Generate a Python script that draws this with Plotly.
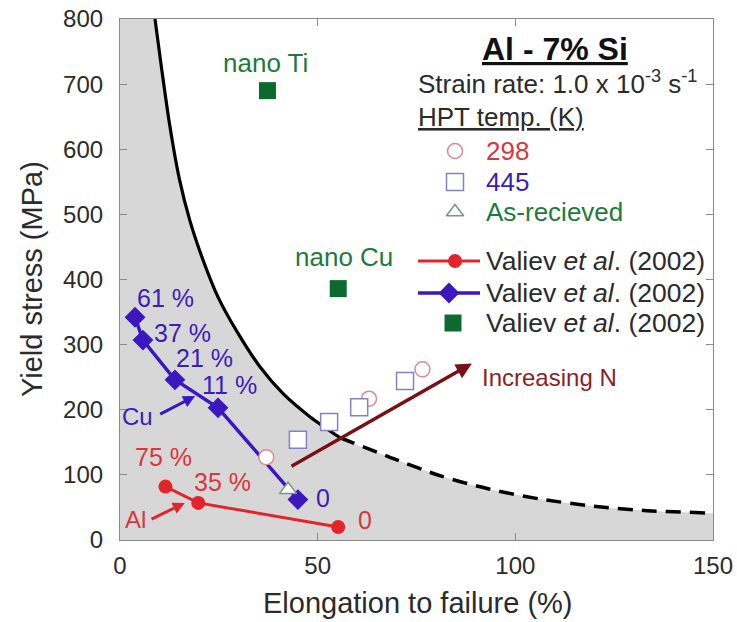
import plotly.graph_objects as go

# ---------------- data ----------------
curve_solid_x = [8.85, 10.5, 12.5, 15.0, 17.7, 21.0, 24.8, 29.6, 35.4, 41.2, 48.1, 55.7]
curve_solid_y = [800, 725, 640, 555, 490, 430, 373, 320, 266, 225, 189, 157]
curve_dash_x = [55.7, 68.3, 81.3, 93.6, 106.2, 119.7, 133.3, 148.5, 150.0]
curve_dash_y = [157, 127, 98, 78, 63, 52, 45, 41.5, 41]

al_x = [11.5, 19.8, 55.2]
al_y = [82, 57, 20]
al_labels = ["75 %", "35 %", "0"]

cu_x = [3.8, 5.8, 13.9, 24.8, 45.0]
cu_y = [342, 307, 246, 203, 62]
cu_labels = ["61 %", "37 %", "21 %", "11 %", "0"]

nano_x = [37.3, 55.2]
nano_y = [690, 386]
nano_labels = ["nano Ti", "nano Cu"]

t298_x = [37.0, 63.0, 76.5]
t298_y = [127, 217, 262]

t445_x = [45.0, 52.9, 60.5, 72.1]
t445_y = [154, 181, 204, 244]

asrec_x = [42.5]
asrec_y = [77]

x_ticks = [0, 50, 100, 150]
y_ticks = [0, 100, 200, 300, 400, 500, 600, 700, 800]

# label positions (annotation placement, data units)
al_label_pos = [(11.1, 127), (25.8, 89), (62.0, 31)]
cu_label_pos = [(11.6, 371), (15.7, 318), (21.3, 279), (27.6, 238), (51.4, 64)]
nano_label_pos = [(36.7, 732), (56.7, 434)]

# ---------------- styles ----------------
FONT = "Liberation Sans, Arial, sans-serif"
RED = "#e3242b"
BLUE = "#3c16bf"
GREEN = "#0d6a2e"
RED_TXT = "#d9363e"
BLUE_TXT = "#3d1db8"
GREEN_TXT = "#1f7a3d"
RED_OPEN = "#d98a8e"
BLUE_OPEN = "#8282c2"
GREEN_OPEN = "#6f9c7c"
DARKRED = "#7a1016"
GRAY_FILL = "#d7d7d7"
AX = "#8a8a8a"
TXT = "#2b2b2b"

W, H = 737, 622
ML, MR, MT, MB = 120, 24, 19, 82
PW, PH = W - ML - MR, H - MT - MB

fig = go.Figure()

# shaded region under the curve
fig.add_trace(go.Scatter(x=[0, curve_solid_x[0]], y=[curve_solid_y[0], curve_solid_y[0]],
                         mode="lines", line=dict(width=0), fill="tozeroy",
                         fillcolor=GRAY_FILL, hoverinfo="skip", showlegend=False))
fig.add_trace(go.Scatter(x=curve_solid_x + curve_dash_x[1:], y=curve_solid_y + curve_dash_y[1:],
                         mode="lines", line=dict(width=0, shape="spline", smoothing=0.8),
                         fill="tozeroy", fillcolor=GRAY_FILL, hoverinfo="skip", showlegend=False))
# curve
fig.add_trace(go.Scatter(x=curve_solid_x, y=curve_solid_y, mode="lines",
                         line=dict(color="black", width=3.2, shape="spline", smoothing=0.8),
                         showlegend=False))
fig.add_trace(go.Scatter(x=curve_dash_x, y=curve_dash_y, mode="lines",
                         line=dict(color="black", width=3.5, dash="15px,9px",
                                   shape="spline", smoothing=0.8),
                         showlegend=False))

# arrow "Increasing N"
fig.add_annotation(x=89, y=271, ax=43, ay=112, axref="x", ayref="y", xref="x", yref="y",
                   text="", showarrow=True, arrowhead=2, arrowsize=0.9, arrowwidth=3.5,
                   arrowcolor=DARKRED)
fig.add_annotation(x=91, y=250, xref="x", yref="y", text="Increasing N", showarrow=False,
                   xanchor="left", font=dict(family=FONT, size=24, color="#8b1f28"))

# Al and Cu series
fig.add_trace(go.Scatter(x=al_x, y=al_y, mode="lines+markers",
                         line=dict(color=RED, width=3),
                         marker=dict(symbol="circle", size=14, color=RED), showlegend=False))
fig.add_trace(go.Scatter(x=cu_x, y=cu_y, mode="lines+markers",
                         line=dict(color=BLUE, width=3.5),
                         marker=dict(symbol="diamond", size=16, color=BLUE), showlegend=False))
fig.add_trace(go.Scatter(x=nano_x, y=nano_y, mode="markers",
                         marker=dict(symbol="square", size=17, color=GREEN), showlegend=False))

# open markers (HPT data)
fig.add_trace(go.Scatter(x=t298_x, y=t298_y, mode="markers",
                         marker=dict(symbol="circle", size=15, color="white",
                                     line=dict(color=RED_OPEN, width=1.5)), showlegend=False))
fig.add_trace(go.Scatter(x=t445_x, y=t445_y, mode="markers",
                         marker=dict(symbol="square", size=17, color="white",
                                     line=dict(color=BLUE_OPEN, width=1.5)), showlegend=False))
fig.add_trace(go.Scatter(x=asrec_x, y=asrec_y, mode="markers",
                         marker=dict(symbol="triangle-up", size=15, color="white",
                                     line=dict(color=GREEN_OPEN, width=1.5)), showlegend=False))

# point labels
for (lx, ly), t in zip(al_label_pos, al_labels):
    fig.add_annotation(x=lx, y=ly, text=t, showarrow=False,
                       font=dict(family=FONT, size=25, color=RED_TXT))
for (lx, ly), t in zip(cu_label_pos, cu_labels):
    fig.add_annotation(x=lx, y=ly, text=t, showarrow=False,
                       font=dict(family=FONT, size=25, color=BLUE_TXT))
for (lx, ly), t in zip(nano_label_pos, nano_labels):
    fig.add_annotation(x=lx, y=ly, text=t, showarrow=False,
                       font=dict(family=FONT, size=26, color=GREEN_TXT))

# Cu / Al pointer arrows
fig.add_annotation(x=19.0, y=221, ax=9.8, ay=192, axref="x", ayref="y", text="",
                   showarrow=True, arrowhead=2, arrowsize=0.8, arrowwidth=3, arrowcolor=BLUE)
fig.add_annotation(x=8.85, y=189, text="Cu", showarrow=False, xanchor="right",
                   font=dict(family=FONT, size=24, color=BLUE_TXT))
fig.add_annotation(x=16.4, y=57, ax=7.6, ay=31, axref="x", ayref="y", text="",
                   showarrow=True, arrowhead=2, arrowsize=0.8, arrowwidth=3, arrowcolor=RED)
fig.add_annotation(x=7.2, y=31, text="Al", showarrow=False, xanchor="right",
                   font=dict(family=FONT, size=24, color=RED_TXT))

# ---------------- hand-drawn legend ----------------
def px(xp):      # page pixel -> overlay axis units
    return xp - ML

def py(yp):
    return yp - MT

def pxp(xp):     # page pixel -> paper fraction
    return (xp - ML) / PW

def pyp(yp):
    return (H - MB - yp) / PH

def paper_text(xp, yp, text, size, color, xanchor="left", angle=0):
    fig.add_annotation(x=pxp(xp), y=pyp(yp), xref="paper", yref="paper", text=text,
                       showarrow=False, xanchor=xanchor, yanchor="middle", textangle=angle,
                       font=dict(family=FONT, size=size, color=color))

leg_open = [("circle", 15, RED_OPEN, 455, 151, "298", RED_TXT),
            ("square", 17, BLUE_OPEN, 455, 182, "445", BLUE_TXT),
            ("triangle-up", 15, GREEN_OPEN, 455, 212, "As-recieved", GREEN_TXT)]
for sym, sz, col, gx, gy, txt, tcol in leg_open:
    fig.add_trace(go.Scatter(x=[px(gx)], y=[py(gy)], xaxis="x2", yaxis="y2", mode="markers",
                             marker=dict(symbol=sym, size=sz, color="white",
                                         line=dict(color=col, width=1.5)),
                             showlegend=False, hoverinfo="skip"))
    paper_text(484, gy, txt, 26, tcol)

leg_solid = [("circle", 14, RED, 261, True, 455),
             ("diamond", 16, BLUE, 293, True, 449),
             ("square", 17, GREEN, 323, False, 453)]
for sym, sz, col, gy, withline, mx in leg_solid:
    if withline:
        fig.add_trace(go.Scatter(x=[px(418), px(480)], y=[py(gy), py(gy)], xaxis="x2", yaxis="y2",
                                 mode="lines", line=dict(color=col, width=3.5 if sym == "diamond" else 3),
                                 showlegend=False, hoverinfo="skip"))
    fig.add_trace(go.Scatter(x=[px(mx)], y=[py(gy)], xaxis="x2", yaxis="y2", mode="markers",
                             marker=dict(symbol=sym, size=sz, color=col),
                             showlegend=False, hoverinfo="skip"))
    paper_text(484, gy, "Valiev <i>et al</i>. (2002)", 26.5, TXT)

paper_text(555, 49, "<b><u>Al - 7% Si</u></b>", 32, "#111", xanchor="center")
paper_text(416, 82, "Strain rate: 1.0 x 10<sup>-3</sup> s<sup>-1</sup>", 26, TXT)
paper_text(416, 117, "<u>HPT temp. (K)</u>", 26, TXT)

# axis titles
paper_text(418, 603, "Elongation to failure (%)", 29, TXT, xanchor="center")
paper_text(32, 279, "Yield stress (MPa)", 29, TXT, xanchor="center", angle=-90)

# ---------------- layout ----------------
axis_common = dict(showline=True, linecolor=AX, linewidth=1.2, mirror="ticks",
                   ticks="inside", ticklen=7, tickcolor=AX, tickwidth=1.2,
                   showgrid=False, zeroline=False, automargin=False,
                   tickfont=dict(family=FONT, size=24, color=TXT))
fig.update_layout(
    width=W, height=H,
    margin=dict(l=ML, r=MR, t=MT, b=MB),
    paper_bgcolor="white", plot_bgcolor="white",
    showlegend=False,
    xaxis=dict(range=[0, 150], tickvals=x_ticks, ticklabelstandoff=4, **axis_common),
    yaxis=dict(range=[0, 800], tickvals=y_ticks, ticklabelstandoff=11, **axis_common),
    xaxis2=dict(range=[0, PW], overlaying="x", visible=False, anchor="y2"),
    yaxis2=dict(range=[PH, 0], overlaying="y", visible=False, anchor="x2"),
)

fig.write_html("out.html", config={"displayModeBar": False},
               post_script="document.body.style.margin='0';document.body.style.padding='0';")
